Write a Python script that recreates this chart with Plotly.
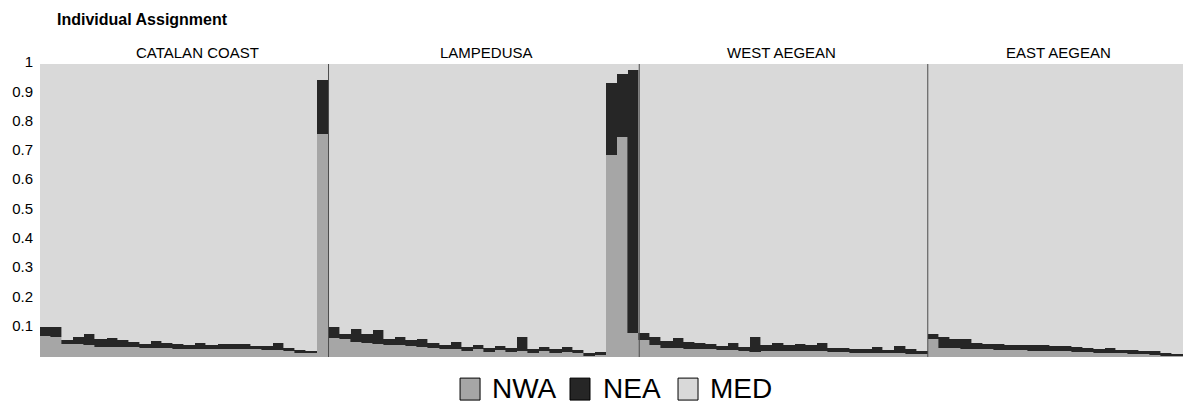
import plotly.graph_objects as go

# Population groups (left to right)
populations = ["CATALAN COAST", "LAMPEDUSA", "WEST AEGEAN", "EAST AEGEAN"]

# Membership probability per individual for each cluster (MED is the remainder)
catalan_nwa = [0.073, 0.067, 0.043, 0.043, 0.042, 0.035, 0.035, 0.034, 0.033, 0.032,
               0.032, 0.030, 0.029, 0.029, 0.029, 0.028, 0.028, 0.027, 0.027, 0.026,
               0.025, 0.025, 0.019, 0.015, 0.012, 0.760]
catalan_nea = [0.030, 0.034, 0.015, 0.026, 0.035, 0.026, 0.029, 0.024, 0.019, 0.011,
               0.023, 0.019, 0.014, 0.012, 0.020, 0.013, 0.017, 0.018, 0.016, 0.013,
               0.014, 0.022, 0.011, 0.009, 0.009, 0.185]

lampedusa_nwa = [0.064, 0.060, 0.052, 0.048, 0.046, 0.040, 0.040, 0.036, 0.034, 0.030,
                 0.028, 0.028, 0.022, 0.026, 0.018, 0.023, 0.018, 0.022, 0.014, 0.020,
                 0.014, 0.017, 0.012, 0.005, 0.006, 0.689, 0.752, 0.081]
lampedusa_nea = [0.037, 0.018, 0.044, 0.030, 0.046, 0.021, 0.029, 0.022, 0.026, 0.019,
                 0.013, 0.024, 0.013, 0.015, 0.012, 0.015, 0.012, 0.045, 0.012, 0.015,
                 0.012, 0.016, 0.012, 0.010, 0.012, 0.247, 0.214, 0.899]

west_aegean_nwa = [0.058, 0.040, 0.030, 0.030, 0.028, 0.027, 0.026, 0.024, 0.024, 0.022,
                   0.018, 0.022, 0.022, 0.021, 0.021, 0.020, 0.020, 0.018, 0.016, 0.014,
                   0.014, 0.014, 0.012, 0.012, 0.011, 0.010]
west_aegean_nea = [0.023, 0.027, 0.026, 0.034, 0.024, 0.020, 0.018, 0.014, 0.023, 0.013,
                   0.051, 0.019, 0.025, 0.020, 0.023, 0.021, 0.027, 0.014, 0.014, 0.012,
                   0.013, 0.019, 0.012, 0.026, 0.015, 0.012]

east_aegean_nwa = [0.060, 0.030, 0.030, 0.029, 0.028, 0.026, 0.025, 0.024, 0.023, 0.022,
                   0.021, 0.020, 0.019, 0.018, 0.017, 0.015, 0.014, 0.012, 0.011, 0.010,
                   0.008, 0.005, 0.004]
east_aegean_nea = [0.017, 0.039, 0.031, 0.032, 0.021, 0.017, 0.018, 0.017, 0.018, 0.019,
                   0.020, 0.018, 0.019, 0.017, 0.013, 0.011, 0.018, 0.012, 0.013, 0.012,
                   0.013, 0.008, 0.005]

y_ticks = [0.1, 0.2, 0.3, 0.4, 0.5, 0.6, 0.7, 0.8, 0.9, 1.0]
y_tick_text = ["0.1", "0.2", "0.3", "0.4", "0.5", "0.6", "0.7", "0.8", "0.9", "1"]

cluster_names = ["NWA", "NEA", "MED"]
cluster_colors = ["#a6a6a6", "#262626", "#d9d9d9"]

groups_nwa = [catalan_nwa, lampedusa_nwa, west_aegean_nwa, east_aegean_nwa]
groups_nea = [catalan_nea, lampedusa_nea, west_aegean_nea, east_aegean_nea]

nwa = [v for g in groups_nwa for v in g]
nea = [v for g in groups_nea for v in g]
med = [round(1 - a - b, 3) for a, b in zip(nwa, nea)]
x = list(range(len(nwa)))

FONT = "Arial, Liberation Sans, sans-serif"

fig = go.Figure()
for name, vals, col in zip(cluster_names, [nwa, nea, med], cluster_colors):
    fig.add_trace(go.Bar(
        x=x, y=vals, name=name,
        marker=dict(color=col, line=dict(color=col, width=0.6)),
        showlegend=False, hoverinfo="skip",
    ))

# Vertical separators between populations
shapes = []
bounds = []
start = 0
for g in groups_nwa:
    bounds.append((start, start + len(g)))
    start += len(g)
for (s, e) in bounds[:-1]:
    shapes.append(dict(type="line", xref="x", yref="y", x0=e - 0.5, x1=e - 0.5,
                       y0=0, y1=1, line=dict(color="#4d4d4d", width=1)))

annotations = []
# Population labels above each block
label_pos = [0.138, 0.391, 0.649, 0.891]
for name, px in zip(populations, label_pos):
    annotations.append(dict(text=name, xref="paper", yref="paper", x=px, y=1.0,
                            xanchor="center", yanchor="bottom", yshift=1, showarrow=False,
                            font=dict(family=FONT, size=15, color="black")))

annotations.append(dict(text="<b>Individual Assignment</b>", xref="paper", yref="paper",
                        x=0.0135, y=1.152, xanchor="left", yanchor="middle", showarrow=False,
                        font=dict(family=FONT, size=16, color="black")))

# Legend drawn below the plot
legend_swatch_x = [0.3675, 0.4637, 0.5582]
legend_text_x = [0.3940, 0.4911, 0.5847]
sw_w = 20 / 1143
for name, col, sx, tx in zip(cluster_names, cluster_colors, legend_swatch_x, legend_text_x):
    shapes.append(dict(type="rect", xref="paper", yref="paper", x0=sx, x1=sx + sw_w,
                       y0=-0.147, y1=-0.072, fillcolor=col,
                       line=dict(color="black", width=1)))
    annotations.append(dict(text=name, xref="paper", yref="paper", x=tx, y=-0.108,
                            xanchor="left", yanchor="middle", showarrow=False,
                            font=dict(family=FONT, size=28, color="black")))

fig.update_layout(
    width=1188, height=403,
    margin=dict(l=40, r=5, t=64, b=46),
    barmode="stack", bargap=0,
    plot_bgcolor="white", paper_bgcolor="white",
    xaxis=dict(visible=False, range=[-0.5, len(x) - 0.5]),
    yaxis=dict(range=[0, 1], tickvals=y_ticks, ticktext=y_tick_text,
               showgrid=False, zeroline=False, showline=False, ticks="",
               ticklabelstandoff=6, ticklabelshift=-2,
               tickfont=dict(family=FONT, size=15, color="black")),
    shapes=shapes, annotations=annotations,
)

fig.write_html("out.html")
